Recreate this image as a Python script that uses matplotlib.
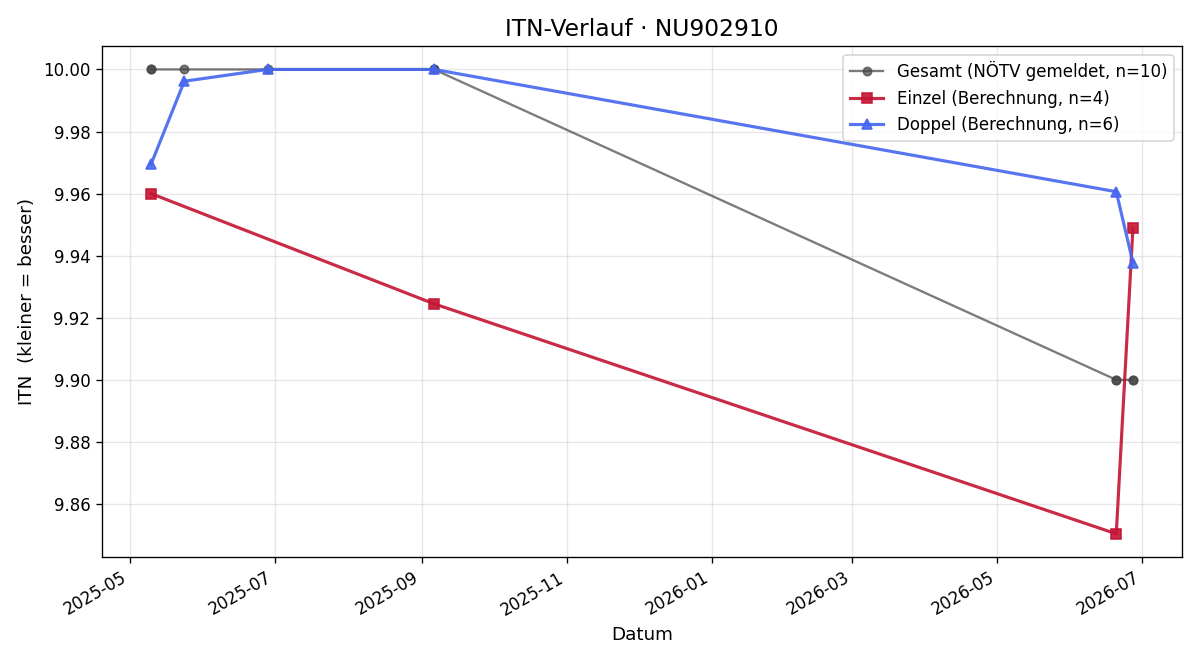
import matplotlib
matplotlib.use("Agg")
import matplotlib.pyplot as plt
import pandas as pd

gesamt_dates = ["2025-05-10", "2025-05-10", "2025-05-24", "2025-06-28", "2025-09-06",
                "2025-09-06", "2026-06-20", "2026-06-20", "2026-06-27", "2026-06-27"]
gesamt_vals = [10.00, 10.00, 10.00, 10.00, 10.00, 10.00, 9.90, 9.90, 9.90, 9.90]

einzel_dates = ["2025-05-10", "2025-09-06", "2026-06-20", "2026-06-27"]
einzel_vals = [9.960, 9.9245, 9.8504, 9.9488]

doppel_dates = ["2025-05-10", "2025-05-24", "2025-06-28", "2025-09-06", "2026-06-20", "2026-06-27"]
doppel_vals = [9.9695, 9.9962, 10.00, 10.00, 9.9606, 9.9378]

fig, ax = plt.subplots(figsize=(10, 5.5), dpi=120)
ax.plot(pd.to_datetime(gesamt_dates), gesamt_vals, marker="o", color="#444444", alpha=0.7,
        lw=1.4, markersize=5, label="Gesamt (NÖTV gemeldet, n=10)")
ax.plot(pd.to_datetime(einzel_dates), einzel_vals, marker="s", color="#c41433", alpha=0.9,
        lw=1.9, markersize=6, label="Einzel (Berechnung, n=4)")
ax.plot(pd.to_datetime(doppel_dates), doppel_vals, marker="^", color="#4566f0", alpha=0.9,
        lw=1.9, markersize=6, label="Doppel (Berechnung, n=6)")

ax.set_title("ITN-Verlauf · NU902910", fontsize=14)
ax.set_xlabel("Datum", fontsize=11)
ax.set_ylabel("ITN  (kleiner = besser)", fontsize=11)
ax.grid(True, alpha=0.3)
ax.legend(loc="upper right", fontsize=10)
fig.autofmt_xdate()
fig.subplots_adjust(left=0.085, right=0.985, top=0.930, bottom=0.156)
fig.savefig("out.png")
